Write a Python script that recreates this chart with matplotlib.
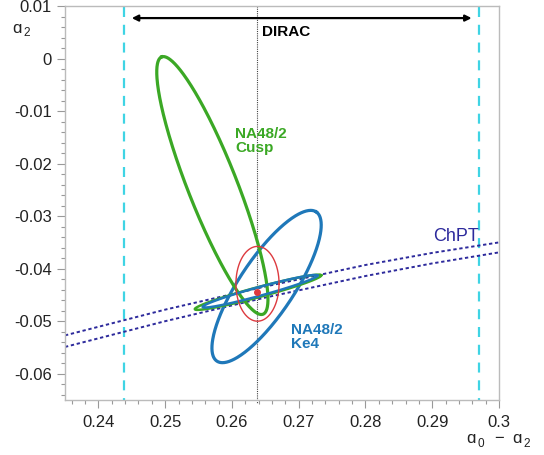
import numpy as np
import matplotlib
matplotlib.use("Agg")
import matplotlib.pyplot as plt

plt.rcParams['font.family'] = ['Liberation Sans', 'DejaVu Sans']
plt.rcParams['axes.unicode_minus'] = False

# ---- data ----
x_ticks = [0.24, 0.25, 0.26, 0.27, 0.28, 0.29, 0.30]
x_tick_labels = ["0.24", "0.25", "0.26", "0.27", "0.28", "0.29", "0.3"]
y_ticks = [0.01, 0.0, -0.01, -0.02, -0.03, -0.04, -0.05, -0.06]
y_tick_labels = ["0.01", "0", "-0.01", "-0.02", "-0.03", "-0.04", "-0.05", "-0.06"]

# ChPT band (two boundary lines)
chpt_x = [0.235, 0.250, 0.265, 0.280, 0.290, 0.300]
chpt_upper = [-0.0527, -0.0478, -0.0434, -0.0393, -0.0370, -0.0350]
chpt_lower = [-0.0549, -0.0500, -0.0455, -0.0414, -0.0390, -0.0369]

# DIRAC range
dirac_lo, dirac_hi = 0.2438, 0.2970
dirac_arrow = (0.2450, 0.2959, 0.0077)
center_line_x = 0.2637

# Ellipses: center, semi-diameter 1, semi-diameter 2 (data units)
cusp_center, cusp_d1, cusp_d2 = (0.25707, -0.02418), (-0.00759, 0.02449), (0.00343, 0.00170)
ke4_center, ke4_d1, ke4_d2 = (0.26519, -0.04340), (0.00744, 0.01420), (0.00341, -0.00291)
cusp_chpt_center, cusp_chpt_d1, cusp_chpt_d2 = (0.26391, -0.04449), (0.00947, 0.00323), (0.00020, -0.00091)
ke4_chpt_center, ke4_chpt_d1, ke4_chpt_d2 = (0.26421, -0.04430), (0.00860, 0.00300), (0.00018, -0.00080)
comb_center, comb_d1, comb_d2 = (0.26383, -0.04288), (0.00323, 0.0), (0.0, 0.00712)
best_point = (0.26376, -0.04449)

GREEN = '#3ba825'
BLUE = '#1f78b9'
RED = '#dd3a3f'
NAVY = '#2d2a9c'
CYAN = '#3fd4e4'
W, H = 544, 455

fig = plt.figure(figsize=(5.44, 4.55), dpi=100)
ax = fig.add_axes([65/W, 55/H, 434/W, 394/H])
ax.set_xlim(0.235, 0.300)
ax.set_ylim(-0.065, 0.010)

t = np.linspace(0, 2*np.pi, 400)
def draw_ellipse(c, d1, d2, **kw):
    xs = c[0] + d1[0]*np.cos(t) + d2[0]*np.sin(t)
    ys = c[1] + d1[1]*np.cos(t) + d2[1]*np.sin(t)
    ax.plot(xs, ys, **kw)

# DIRAC cyan dashed limits
for xv in (dirac_lo, dirac_hi):
    ax.plot([xv, xv], [0.0098, -0.065], color=CYAN, lw=1.6,
            linestyle=(0, (4.5, 3.5)), zorder=1)

# central dotted line
ax.plot([center_line_x, center_line_x], [0.010, -0.0655], color='#444444', lw=0.8,
        linestyle=(0, (1, 1)), zorder=1, clip_on=False)

# ChPT band
ax.plot(chpt_x, chpt_upper, color=NAVY, lw=1.4, linestyle=(0, (1.7, 1.4)), zorder=2)
ax.plot(chpt_x, chpt_lower, color=NAVY, lw=1.4, linestyle=(0, (1.7, 1.4)), zorder=2)

draw_ellipse(ke4_center, ke4_d1, ke4_d2, color=BLUE, lw=2.3, zorder=3)
draw_ellipse(cusp_center, cusp_d1, cusp_d2, color=GREEN, lw=2.3, zorder=4)
draw_ellipse(cusp_chpt_center, cusp_chpt_d1, cusp_chpt_d2, color=GREEN, lw=1.8, zorder=3)
draw_ellipse(ke4_chpt_center, ke4_chpt_d1, ke4_chpt_d2, color=BLUE, lw=1.8, zorder=4)
draw_ellipse(comb_center, comb_d1, comb_d2, color=RED, lw=1.0, zorder=5)
ax.plot([best_point[0]], [best_point[1]], 'o', color=RED, ms=4, zorder=6)

# DIRAC arrow and label
ax.annotate('', xy=(dirac_arrow[1], dirac_arrow[2]), xytext=(dirac_arrow[0], dirac_arrow[2]),
            arrowprops=dict(arrowstyle='<|-|>', lw=1.6, color='black',
                            mutation_scale=9, shrinkA=0, shrinkB=0))
ax.text(0.2645, 0.00506, 'DIRAC', fontsize=11, fontweight='bold', color='black',
        ha='left', va='center')

ax.text(0.26045, -0.0130, 'NA48/2\nCusp', fontsize=11, fontweight='bold', color=GREEN,
        ha='left', va='top', linespacing=1.05)
ax.text(0.26887, -0.0503, 'NA48/2\nKe4', fontsize=11, fontweight='bold', color=BLUE,
        ha='left', va='top', linespacing=1.05)
ax.text(0.2901, -0.0348, 'ChPT', fontsize=13, color=NAVY, ha='left', va='baseline')

# ticks
ax.set_xticks(x_ticks)
ax.set_xticklabels(x_tick_labels)
ax.set_yticks(y_ticks)
ax.set_yticklabels(y_tick_labels)
ax.set_xticks(np.arange(0.236, 0.3001, 0.002), minor=True)
ax.set_yticks(np.arange(-0.064, 0.0101, 0.002), minor=True)
ax.tick_params(which='major', direction='out', length=6, width=0.8, color='#999999',
               labelsize=12, labelcolor='#222222')
ax.tick_params(axis='x', which='major', pad=5)
ax.tick_params(which='minor', direction='out', length=3, width=0.8, color='#999999')
for s in ax.spines.values():
    s.set_color('#bbbbbb')
    s.set_linewidth(1.0)

# axis labels, built from pieces placed in pixel coordinates
def piece(px, py, s, size):
    fig.text(px/W, 1 - py/H, s, fontsize=size, color='#222222', ha='left', va='baseline')

piece(12, 33, 'ɑ', 12)
piece(23, 36, '2', 8.5)
piece(466, 443, 'ɑ', 12)
piece(477, 447, '0', 8.5)
piece(494, 443, '−', 12)
piece(512, 443, 'ɑ', 12)
piece(523, 447, '2', 8.5)

fig.savefig('out.png', dpi=100)
